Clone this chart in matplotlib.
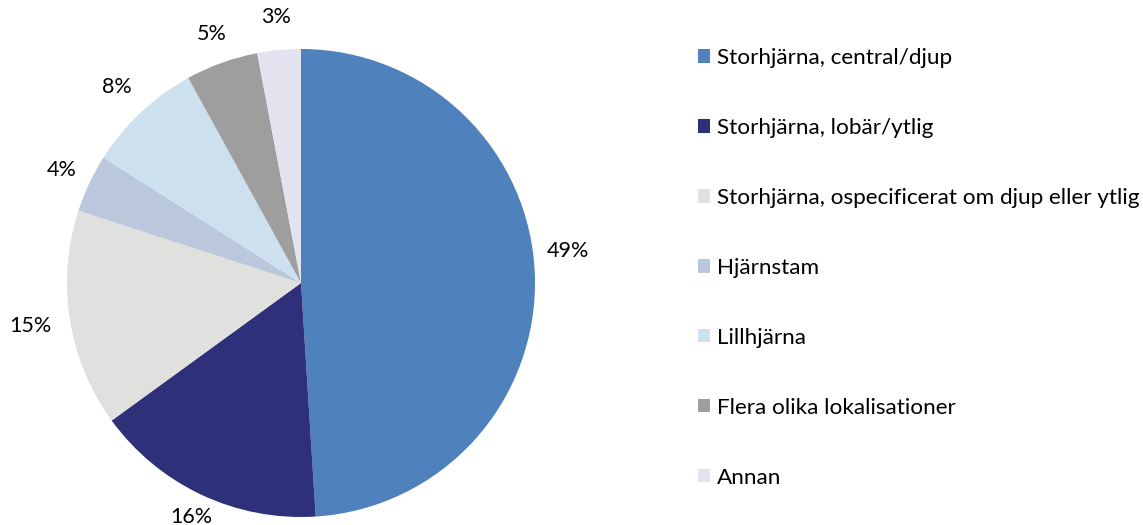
import matplotlib
matplotlib.use("Agg")
import matplotlib.pyplot as plt
import numpy as np
from matplotlib.patches import Patch

categories = [
    "Storhjärna, central/djup",
    "Storhjärna, lobär/ytlig",
    "Storhjärna, ospecificerat om djup eller ytlig",
    "Hjärnstam",
    "Lillhjärna",
    "Flera olika lokalisationer",
    "Annan",
]
values = [49, 16, 15, 4, 8, 5, 3]
colors = ["#4F81BD", "#2E3079", "#E0E0DE", "#BBC7DC", "#CCE0EE", "#9E9E9E", "#E3E3F0"]

plt.rcParams['font.family'] = ['Lato', 'DejaVu Sans']

W, H = 1143, 525
fig = plt.figure(figsize=(W / 100, H / 100), dpi=100)
cx, cy, R = 301, 283, 234
ax = fig.add_axes([(cx - R) / W, (H - cy - R) / H, 2 * R / W, 2 * R / H])

wedges, texts = ax.pie(
    values, colors=colors, startangle=90, counterclock=False,
    wedgeprops=dict(linewidth=0),
)
ax.set_xlim(-1, 1)
ax.set_ylim(-1, 1)

# label placement (Excel best-fit style)
label_dist = [1.15, 1.105, 1.17, 1.13, 1.15, 1.13, 1.14]
label_shift = [5, 0, 0, 0, 0, 0, 0]  # degrees
total = sum(values)
for w, v, d, s in zip(wedges, values, label_dist, label_shift):
    ang = np.deg2rad((w.theta1 + w.theta2) / 2 + s)
    ax.text(d * np.cos(ang), d * np.sin(ang), f"{100 * v / total:.0f}%",
            ha='center', va='center', fontsize=15.5, color='black')

handles = [Patch(facecolor=c, edgecolor='none') for c in colors]
fig.legend(handles, categories, loc='upper left', bbox_to_anchor=(698 / W, 1 - 48 / H),
           frameon=False, fontsize=16.2, handlelength=0.53, handleheight=0.53,
           handletextpad=0.31, labelspacing=2.22, borderaxespad=0, borderpad=0)

fig.savefig("out.png", dpi=100)
